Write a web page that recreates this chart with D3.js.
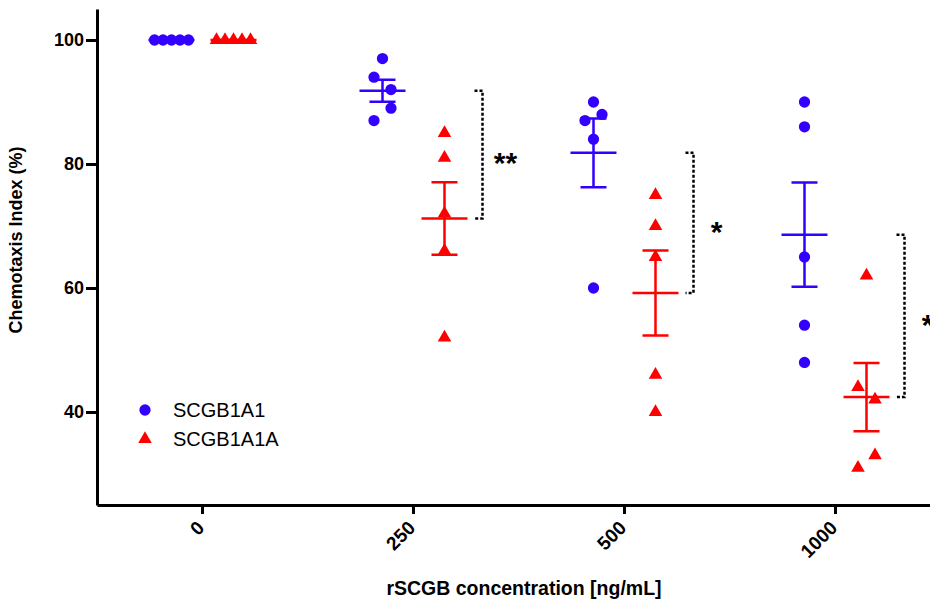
<!DOCTYPE html>
<html>
<head>
<meta charset="utf-8">
<script src="https://cdn.jsdelivr.net/npm/d3@7"></script>
<style>
    body { margin: 0; background: #ffffff; }
    text { font-family: "Liberation Sans", Arial, sans-serif; }
</style>
</head>
<body>
<svg id="drawing_region"></svg>
<script>
// rSCGB concentration groups (ng/mL)
const concentrations = ["0", "250", "500", "1000"];
const series_names = ["SCGB1A1", "SCGB1A1A"];
const series_colors = ["#3300ff", "#ff0000"];

// chemotaxis index (%) per group
const scgb1a1 = [
    [100, 100, 100, 100, 100],
    [97, 94, 92, 89, 87],
    [90, 88, 87, 84, 60],
    [90, 86, 65, 54, 48]
];
const scgb1a1a = [
    [100, 100, 100, 100, 100],
    [85, 81, 72, 66, 52],
    [75, 70, 65, 46, 40],
    [62, 44, 42, 33, 31]
];

// horizontal jitter slot of each point (to keep overlapping dots apart)
const jitter_scgb1a1 = [
    [-2, -1, 0, 1, 2],
    [0, -1, 1, 1, -1],
    [0, 1, -1, 0, 0],
    [0, 0, 0, 0, 0]
];
const jitter_scgb1a1a = [
    [-2, -1, 0, 1, 2],
    [0, 0, 0, 0, 0],
    [0, 0, 0, 0, 0],
    [0, -1, 1, 1, -1]
];

const significance = ["", "**", "*", "*"];
const y_ticks = [40, 60, 80, 100];

var config = {
    parent: '#drawing_region',
    width: 930,
    height: 600,
    margin: {top: 9, right: -11, bottom: 95, left: 97}
};

class DotPlot {

    constructor( config ) {
        this.config = config;
        this.init();
    }

    init() {
        let self = this;

        self.svg = d3.select( self.config.parent )
            .attr('width', self.config.width)
            .attr('height', self.config.height);

        self.chart = self.svg.append('g')
            .attr('transform', `translate(${self.config.margin.left}, ${self.config.margin.top})`);

        self.inner_width = self.config.width - self.config.margin.left - self.config.margin.right;
        self.inner_height = self.config.height - self.config.margin.top - self.config.margin.bottom;

        self.xscale = d3.scaleBand()
            .domain( concentrations )
            .range( [0, self.inner_width] );

        self.sscale = d3.scalePoint()
            .domain( series_names )
            .range( [-31, 31] );

        self.yscale = d3.scaleLinear()
            .domain( [25, 105] )
            .range( [self.inner_height, 0] );

        self.color = d3.scaleOrdinal()
            .domain( series_names )
            .range( series_colors );

        self.xaxis = d3.axisBottom( self.xscale )
            .tickSize(9)
            .tickSizeOuter(0);

        self.yaxis = d3.axisLeft( self.yscale )
            .tickValues( y_ticks )
            .tickSize(11)
            .tickPadding(2)
            .tickSizeOuter(0);

        self.plot_area = self.chart.append('g');
        self.xaxis_group = self.chart.append('g')
            .attr('transform', `translate(0, ${self.inner_height})`);
        self.yaxis_group = self.chart.append('g');
    }

    update() {
        let self = this;

        const values = [scgb1a1, scgb1a1a];
        const jitters = [jitter_scgb1a1, jitter_scgb1a1a];

        self.groups = [];
        concentrations.forEach( (c, i) => {
            series_names.forEach( (s, k) => {
                const v = values[k][i];
                self.groups.push({
                    concentration: c,
                    series: s,
                    values: v,
                    jitter: jitters[k][i],
                    mean: d3.mean(v),
                    sem: d3.deviation(v) / Math.sqrt(v.length)
                });
            });
        });

        self.points = [];
        self.groups.forEach( g => {
            g.values.forEach( (v, j) => {
                self.points.push({ concentration: g.concentration, series: g.series, value: v, jitter: g.jitter[j] });
            });
        });

        self.render();
    }

    cx( concentration, series ) {
        return this.xscale( concentration ) + this.xscale.bandwidth() / 2 + this.sscale( series );
    }

    render() {
        let self = this;

        // mean lines
        self.plot_area.selectAll('.mean')
            .data( self.groups )
            .join('line')
            .attr('class', 'mean')
            .attr('x1', d => self.cx(d.concentration, d.series) - 23)
            .attr('x2', d => self.cx(d.concentration, d.series) + 23)
            .attr('y1', d => self.yscale(d.mean))
            .attr('y2', d => self.yscale(d.mean))
            .attr('stroke', d => self.color(d.series))
            .attr('stroke-width', 2.5);

        // SEM whiskers
        self.plot_area.selectAll('.sem')
            .data( self.groups )
            .join('path')
            .attr('class', 'sem')
            .attr('d', d => {
                const x = self.cx(d.concentration, d.series);
                const hi = self.yscale(d.mean + d.sem);
                const lo = self.yscale(d.mean - d.sem);
                return `M${x - 13},${hi}H${x + 13}M${x},${hi}V${lo}M${x - 13},${lo}H${x + 13}`;
            })
            .attr('fill', 'none')
            .attr('stroke', d => self.color(d.series))
            .attr('stroke-width', 2.5);

        // points
        const circle = d3.symbol().type(d3.symbolCircle).size(100);
        const triangle = d3.symbol().type(d3.symbolTriangle).size(80);

        self.plot_area.selectAll('.point')
            .data( self.points )
            .join('path')
            .attr('class', 'point')
            .attr('d', d => d.series === series_names[0] ? circle() : triangle())
            .attr('transform', d => `translate(${self.cx(d.concentration, d.series) + d.jitter * 8.5}, ${self.yscale(d.value)})`)
            .attr('fill', d => self.color(d.series));

        // significance brackets
        const sig = concentrations
            .map( (c, i) => ({ concentration: c, label: significance[i],
                a: self.groups.find(g => g.concentration === c && g.series === series_names[0]),
                b: self.groups.find(g => g.concentration === c && g.series === series_names[1]) }) )
            .filter( d => d.label !== "" );

        self.plot_area.selectAll('.bracket')
            .data( sig )
            .join('path')
            .attr('class', 'bracket')
            .attr('d', d => {
                const x = self.cx(d.concentration, series_names[1]) + 38;
                const y1 = self.yscale(d.a.mean);
                const y2 = self.yscale(d.b.mean);
                return `M${x - 8},${y1}H${x}V${y2}H${x - 8}`;
            })
            .attr('fill', 'none')
            .attr('stroke', '#000')
            .attr('stroke-width', 2.5)
            .attr('stroke-dasharray', '3,2');

        self.plot_area.selectAll('.stars')
            .data( sig )
            .join('text')
            .attr('class', 'stars')
            .attr('x', d => self.cx(d.concentration, series_names[1]) + 61)
            .attr('y', d => (self.yscale(d.a.mean) + self.yscale(d.b.mean)) / 2)
            .attr('dy', '0.62em')
            .attr('text-anchor', 'middle')
            .style('font-size', '30px')
            .style('font-weight', 'bold')
            .text( d => d.label );

        // axes
        self.xaxis_group.call( self.xaxis );
        self.yaxis_group.call( self.yaxis );

        [self.xaxis_group, self.yaxis_group].forEach( g => {
            g.select('.domain').attr('stroke-width', 3);
            g.selectAll('.tick line').attr('stroke-width', 3);
        });

        self.xaxis_group.selectAll('.tick text')
            .attr('x', 0)
            .attr('y', 0)
            .attr('dy', 0)
            .attr('text-anchor', 'end')
            .attr('transform', 'translate(3, 24) rotate(-45)')
            .style('font-size', '19px')
            .style('font-weight', 'bold')
            .attr('fill', '#000');

        self.yaxis_group.selectAll('.tick text')
            .style('font-size', '18px')
            .style('font-weight', 'bold')
            .attr('fill', '#000');

        // axis labels
        self.svg.append('text')
            .attr('x', 524)
            .attr('y', 595)
            .attr('text-anchor', 'middle')
            .style('font-size', '19.5px')
            .style('font-weight', 'bold')
            .text('rSCGB concentration [ng/mL]');

        self.svg.append('text')
            .attr('transform', 'translate(22, 240) rotate(-90)')
            .attr('text-anchor', 'middle')
            .style('font-size', '18px')
            .style('font-weight', 'bold')
            .text('Chemotaxis Index (%)');

        // legend
        const legend = self.svg.append('g')
            .attr('transform', 'translate(145, 410)');

        const items = legend.selectAll('g')
            .data( series_names )
            .join('g')
            .attr('transform', (d, i) => `translate(0, ${i * 29})`);

        items.append('path')
            .attr('d', (d, i) => i === 0 ? circle() : triangle())
            .attr('fill', d => self.color(d));

        items.append('text')
            .attr('x', 28)
            .attr('dy', '0.36em')
            .style('font-size', '20px')
            .text( d => d );
    }
}

const dot_plot = new DotPlot( config );
dot_plot.update();
</script>
</body>
</html>
